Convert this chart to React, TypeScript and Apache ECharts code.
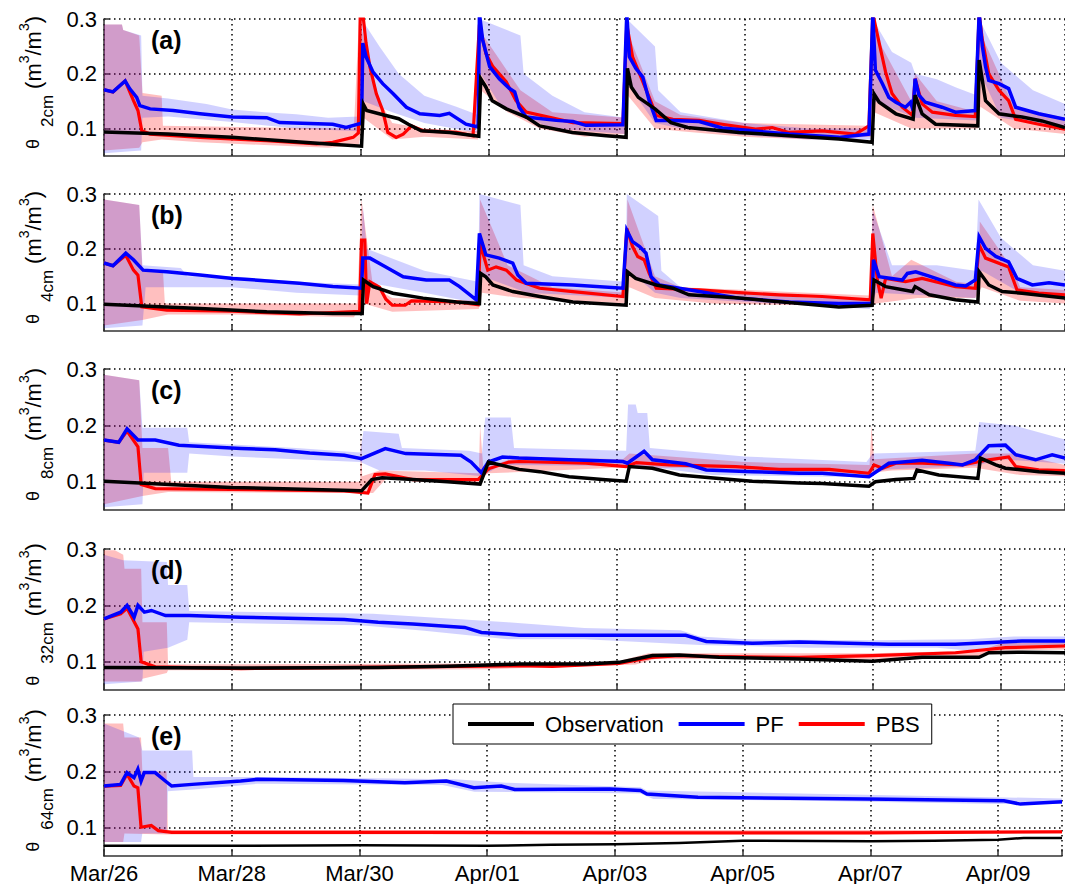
import React, { useEffect, useRef } from 'react';
import * as echarts from 'echarts';

const X_TICK_LABELS = ['Mar/26', 'Mar/28', 'Mar/30', 'Apr/01', 'Apr/03', 'Apr/05', 'Apr/07', 'Apr/09'];
const Y_TICKS = [0.1, 0.2, 0.3];
const PANEL_LABELS = ['(a)', '(b)', '(c)', '(d)', '(e)'];
const DEPTHS = ['2cm', '4cm', '8cm', '32cm', '64cm'];
const LEGEND_NAMES = ['Observation', 'PF', 'PBS'];

// x = days since Mar/26 00:00, y = soil moisture (m3/m3)
// ---------- (a) 2 cm ----------
const OBS_A = [[0,0.094],[0.5,0.092],[1,0.09],[1.5,0.087],[2,0.084],[2.5,0.08],[3,0.076],[3.5,0.072],[4.02,0.068],[4.05,0.144],[4.1,0.133],[4.4,0.124],[4.6,0.118],[4.75,0.108],[4.95,0.096],[5.4,0.093],[5.85,0.086],[5.88,0.191],[5.96,0.176],[6.06,0.151],[6.28,0.136],[6.59,0.121],[6.8,0.105],[7.31,0.093],[7.84,0.087],[8.15,0.084],[8.17,0.21],[8.23,0.176],[8.34,0.157],[8.6,0.136],[8.85,0.111],[9.11,0.102],[9.91,0.093],[10.69,0.087],[11.47,0.081],[11.99,0.075],[12.02,0.163],[12.1,0.148],[12.36,0.127],[12.63,0.117],[12.66,0.161],[12.77,0.127],[12.98,0.108],[13.64,0.105],[13.66,0.225],[13.76,0.151],[13.97,0.127],[14.33,0.121],[14.64,0.114],[15,0.102]];
const PF_A = [[0,0.171],[0.14,0.167],[0.33,0.187],[0.4,0.173],[0.51,0.157],[0.56,0.142],[0.72,0.136],[1.08,0.133],[1.5,0.127],[2.0,0.121],[2.54,0.12],[2.74,0.111],[3.57,0.108],[3.78,0.102],[4.02,0.11],[4.04,0.256],[4.09,0.231],[4.2,0.203],[4.35,0.182],[4.51,0.164],[4.72,0.139],[4.93,0.127],[5.24,0.124],[5.39,0.128],[5.65,0.108],[5.84,0.103],[5.86,0.31],[5.91,0.262],[6.02,0.213],[6.17,0.191],[6.33,0.173],[6.41,0.167],[6.48,0.139],[6.59,0.121],[7.06,0.115],[7.32,0.113],[7.52,0.106],[8.1,0.107],[8.16,0.31],[8.2,0.231],[8.3,0.21],[8.41,0.194],[8.51,0.151],[8.62,0.115],[8.88,0.115],[9.29,0.113],[9.65,0.101],[10.69,0.09],[11.47,0.084],[11.94,0.09],[12.0,0.31],[12.04,0.207],[12.15,0.182],[12.25,0.157],[12.36,0.148],[12.51,0.139],[12.59,0.148],[12.63,0.133],[12.66,0.191],[12.72,0.161],[12.82,0.148],[13.08,0.139],[13.29,0.13],[13.6,0.133],[13.66,0.31],[13.71,0.25],[13.76,0.213],[13.81,0.188],[13.97,0.182],[14.12,0.173],[14.23,0.139],[14.59,0.127],[15,0.117]];
const PBS_A = [[0,0.171],[0.14,0.167],[0.33,0.187],[0.46,0.151],[0.53,0.133],[0.59,0.096],[0.72,0.09],[1.5,0.084],[2.54,0.078],[3.32,0.072],[3.57,0.075],[3.89,0.084],[3.97,0.092],[4.0,0.31],[4.04,0.31],[4.09,0.256],[4.15,0.213],[4.25,0.164],[4.35,0.133],[4.43,0.093],[4.56,0.084],[4.67,0.09],[4.8,0.105],[4.98,0.096],[5.5,0.093],[5.76,0.087],[5.86,0.29],[5.96,0.237],[6.07,0.213],[6.28,0.185],[6.43,0.151],[6.59,0.13],[7.32,0.111],[8.1,0.109],[8.16,0.29],[8.25,0.231],[8.36,0.2],[8.51,0.157],[8.62,0.124],[8.88,0.117],[9.29,0.115],[9.65,0.108],[10.17,0.099],[10.43,0.102],[10.69,0.093],[11.21,0.096],[11.73,0.09],[11.94,0.105],[12.0,0.31],[12.1,0.256],[12.2,0.203],[12.3,0.164],[12.46,0.139],[12.62,0.124],[12.66,0.191],[12.77,0.145],[12.93,0.13],[13.29,0.124],[13.6,0.122],[13.66,0.31],[13.71,0.262],[13.81,0.2],[13.97,0.17],[14.12,0.151],[14.23,0.117],[14.59,0.108],[15,0.099]];
const PF_BAND_A_UP = [[0,0.29],[0.28,0.29],[0.3,0.28],[0.58,0.27],[0.6,0.16],[1.0,0.155],[1.6,0.145],[2.0,0.135],[2.5,0.13],[3.0,0.126],[3.5,0.12],[3.98,0.122],[4.02,0.3],[4.3,0.25],[4.6,0.2],[5.0,0.16],[5.5,0.14],[5.84,0.125],[5.86,0.3],[6.5,0.27],[6.55,0.2],[7.0,0.16],[7.5,0.13],[8.14,0.12],[8.16,0.3],[8.6,0.25],[8.65,0.17],[9.0,0.13],[10,0.11],[11,0.1],[11.98,0.1],[12.0,0.3],[12.3,0.24],[12.6,0.22],[12.66,0.2],[13.0,0.19],[13.3,0.175],[13.64,0.16],[13.66,0.3],[14,0.22],[14.5,0.17],[15,0.145]];
const PF_BAND_A_LO = [[0,0.055],[0.58,0.06],[0.6,0.12],[1.0,0.122],[2,0.112],[3,0.1],[3.98,0.095],[4.05,0.15],[4.5,0.13],[5,0.11],[5.84,0.092],[5.88,0.2],[6.2,0.14],[7,0.1],[8.14,0.09],[8.18,0.18],[8.6,0.11],[9,0.1],[10,0.088],[11,0.08],[11.98,0.08],[12.02,0.15],[12.66,0.12],[13.64,0.115],[13.68,0.2],[14,0.12],[15,0.1]];
const PBS_BAND_A_UP = [[0,0.29],[0.28,0.29],[0.3,0.28],[0.55,0.27],[0.6,0.165],[0.9,0.16],[0.92,0.105],[3.9,0.1],[3.98,0.3],[4.3,0.15],[4.5,0.11],[5.0,0.1],[5.84,0.095],[5.86,0.28],[6.5,0.17],[7,0.13],[8.14,0.12],[8.16,0.28],[8.6,0.15],[9.0,0.125],[10,0.11],[11.95,0.105],[12.0,0.28],[12.6,0.15],[12.66,0.2],[13.0,0.15],[13.64,0.13],[13.66,0.28],[14.2,0.14],[15,0.12]];
const PBS_BAND_A_LO = [[0,0.06],[0.55,0.065],[0.6,0.075],[0.9,0.08],[1.5,0.075],[2.5,0.07],[3.5,0.065],[3.98,0.07],[4.05,0.12],[4.5,0.08],[5,0.085],[5.84,0.08],[5.88,0.17],[6.3,0.13],[6.8,0.1],[7.5,0.085],[8.14,0.09],[8.18,0.16],[8.6,0.1],[9,0.095],[10,0.085],[11,0.08],[11.98,0.085],[12.02,0.13],[12.6,0.1],[13.64,0.1],[13.68,0.14],[14.2,0.1],[15,0.09]];

// ---------- (b) 4 cm ----------
const OBS_B = [[0,0.099],[1.5,0.091],[2.54,0.085],[3.57,0.082],[4.03,0.082],[4.05,0.143],[4.2,0.131],[4.51,0.119],[4.98,0.11],[5.5,0.103],[5.86,0.1],[5.88,0.155],[5.96,0.149],[6.07,0.134],[6.38,0.122],[6.8,0.113],[7.32,0.103],[8.15,0.097],[8.17,0.158],[8.3,0.146],[8.62,0.134],[8.88,0.128],[9.13,0.116],[9.91,0.11],[10.69,0.102],[11.47,0.094],[11.99,0.097],[12.02,0.143],[12.2,0.131],[12.62,0.122],[12.66,0.131],[12.88,0.116],[13.29,0.107],[13.64,0.103],[13.66,0.158],[13.81,0.134],[14.02,0.122],[14.33,0.119],[15,0.11]];
const PF_B = [[0,0.174],[0.14,0.169],[0.34,0.192],[0.46,0.18],[0.61,0.161],[0.98,0.158],[1.5,0.152],[2.01,0.146],[3.05,0.137],[3.57,0.131],[4.02,0.128],[4.04,0.183],[4.15,0.183],[4.35,0.17],[4.67,0.149],[5.03,0.143],[5.39,0.143],[5.55,0.131],[5.81,0.107],[5.86,0.228],[5.96,0.189],[6.17,0.183],[6.38,0.174],[6.46,0.152],[6.59,0.137],[7.32,0.134],[8.1,0.128],[8.16,0.234],[8.25,0.213],[8.36,0.204],[8.46,0.192],[8.54,0.149],[8.67,0.134],[9.29,0.122],[9.91,0.11],[10.69,0.103],[11.47,0.1],[11.99,0.1],[12.01,0.18],[12.1,0.149],[12.46,0.143],[12.54,0.155],[12.67,0.158],[12.88,0.15],[13.29,0.134],[13.45,0.132],[13.6,0.143],[13.66,0.222],[13.76,0.201],[13.92,0.186],[14.12,0.176],[14.25,0.146],[14.49,0.134],[14.75,0.138],[15,0.134]];
const PBS_B = [[0,0.174],[0.14,0.169],[0.34,0.188],[0.46,0.161],[0.53,0.152],[0.59,0.094],[0.98,0.088],[2.01,0.086],[3.05,0.081],[3.99,0.086],[4.02,0.216],[4.07,0.216],[4.1,0.1],[4.15,0.14],[4.3,0.13],[4.4,0.108],[4.5,0.097],[4.7,0.097],[4.8,0.105],[5.5,0.103],[5.84,0.098],[5.87,0.21],[5.99,0.161],[6.12,0.167],[6.28,0.161],[6.44,0.143],[6.8,0.128],[7.32,0.122],[8.1,0.113],[8.16,0.237],[8.25,0.204],[8.33,0.186],[8.43,0.18],[8.51,0.155],[8.62,0.128],[9.29,0.125],[9.91,0.12],[10.54,0.116],[11.21,0.113],[11.96,0.107],[12.0,0.228],[12.07,0.143],[12.13,0.11],[12.2,0.146],[12.51,0.14],[12.77,0.146],[13.29,0.131],[13.6,0.128],[13.66,0.207],[13.76,0.183],[14.12,0.167],[14.25,0.125],[14.59,0.119],[15,0.116]];
const PF_BAND_B_UP = [[0,0.29],[0.55,0.28],[0.6,0.17],[1.2,0.165],[1.3,0.15],[2,0.15],[3,0.14],[4.0,0.135],[4.04,0.28],[4.1,0.2],[5,0.16],[5.84,0.14],[5.86,0.3],[6.5,0.28],[6.55,0.17],[7,0.15],[8.14,0.14],[8.16,0.3],[8.65,0.26],[8.7,0.16],[9,0.13],[10,0.12],[11,0.11],[11.95,0.11],[12.0,0.27],[12.3,0.17],[13,0.17],[13.6,0.16],[13.65,0.29],[14,0.22],[14.5,0.17],[15,0.16]];
const PF_BAND_B_LO = [[0,0.055],[0.6,0.06],[0.65,0.13],[2,0.13],[3,0.12],[4,0.115],[4.05,0.14],[5,0.12],[5.85,0.1],[5.9,0.15],[6.6,0.12],[8.15,0.11],[8.2,0.16],[8.6,0.12],[9,0.11],[11.95,0.09],[12.05,0.12],[13.6,0.11],[13.7,0.16],[14.3,0.12],[15,0.11]];
const PBS_BAND_B_UP = [[0,0.29],[0.55,0.28],[0.6,0.16],[0.92,0.16],[0.95,0.1],[3.95,0.1],[4.02,0.29],[4.2,0.13],[4.5,0.11],[5.85,0.105],[5.87,0.29],[6.3,0.17],[7,0.13],[8.15,0.12],[8.17,0.29],[8.6,0.15],[9,0.13],[11.95,0.115],[12.0,0.28],[12.3,0.15],[12.6,0.18],[13.3,0.14],[13.65,0.135],[13.67,0.25],[14.2,0.16],[14.3,0.13],[15,0.125]];
const PBS_BAND_B_LO = [[0,0.06],[0.6,0.07],[1,0.08],[2,0.08],[3.9,0.075],[4.05,0.1],[4.5,0.085],[5.85,0.09],[5.9,0.12],[6.5,0.11],[8.15,0.1],[8.2,0.13],[8.6,0.11],[9.5,0.1],[11.9,0.095],[12.05,0.1],[12.7,0.11],[13.6,0.11],[13.7,0.13],[14.3,0.105],[15,0.1]];

// ---------- (c) 8 cm ----------
const OBS_C = [[0,0.101],[1.98,0.09],[4.02,0.084],[4.18,0.104],[4.34,0.107],[4.82,0.104],[5.36,0.1],[5.87,0.096],[6.0,0.135],[6.48,0.122],[6.8,0.118],[7.26,0.109],[7.78,0.104],[8.15,0.101],[8.2,0.127],[8.56,0.124],[8.98,0.112],[9.6,0.106],[10.12,0.101],[10.85,0.098],[11.21,0.097],[11.94,0.092],[12.04,0.1],[12.36,0.104],[12.64,0.106],[12.69,0.121],[13.03,0.112],[13.64,0.106],[13.68,0.142],[13.92,0.13],[14.07,0.124],[14.59,0.118],[15,0.115]];
const PF_C = [[0,0.174],[0.23,0.17],[0.36,0.194],[0.53,0.174],[0.8,0.174],[1.17,0.165],[2.14,0.159],[2.67,0.157],[3.21,0.151],[3.75,0.147],[4.02,0.141],[4.39,0.159],[4.71,0.15],[5.57,0.147],[5.73,0.135],[5.89,0.116],[6.0,0.135],[6.22,0.144],[6.48,0.142],[7.26,0.139],[8.1,0.136],[8.17,0.133],[8.43,0.154],[8.56,0.139],[9.08,0.132],[9.4,0.121],[10.12,0.118],[10.85,0.115],[11.21,0.115],[11.94,0.109],[12.25,0.133],[12.77,0.138],[13.19,0.133],[13.4,0.13],[13.6,0.139],[13.81,0.164],[14.07,0.165],[14.23,0.148],[14.54,0.139],[14.8,0.148],[15,0.142]];
const PBS_C = [[0,0.174],[0.23,0.17],[0.36,0.19],[0.53,0.162],[0.58,0.095],[0.8,0.088],[3.75,0.084],[4.12,0.08],[4.23,0.113],[4.39,0.114],[4.82,0.104],[5.84,0.104],[6.0,0.123],[6.32,0.135],[6.48,0.136],[7.52,0.133],[8.15,0.127],[8.31,0.134],[8.82,0.13],[9.86,0.127],[10.54,0.122],[11.32,0.122],[11.94,0.115],[12.02,0.13],[12.15,0.124],[12.36,0.133],[12.77,0.133],[13.4,0.13],[13.81,0.139],[14.12,0.144],[14.23,0.127],[14.59,0.121],[15,0.12]];
const PF_BAND_C_UP = [[0,0.29],[0.55,0.28],[0.6,0.196],[1.3,0.196],[1.33,0.17],[3,0.16],[4.0,0.152],[4.05,0.19],[4.6,0.185],[4.65,0.16],[5.7,0.155],[5.9,0.15],[5.95,0.214],[6.35,0.214],[6.4,0.16],[8.15,0.155],[8.18,0.237],[8.3,0.237],[8.33,0.222],[8.48,0.222],[8.52,0.16],[10,0.145],[11.9,0.135],[12.0,0.15],[13.6,0.155],[13.66,0.206],[14.2,0.2],[15,0.175]];
const PF_BAND_C_LO = [[0,0.055],[0.6,0.06],[0.62,0.116],[1.3,0.116],[1.33,0.15],[2,0.145],[4,0.135],[4.3,0.12],[5,0.12],[5.9,0.11],[6.2,0.13],[8,0.128],[8.6,0.125],[9.5,0.112],[11.9,0.108],[12.2,0.122],[13.6,0.128],[14,0.14],[15,0.132]];
const PBS_BAND_C_UP = [[0,0.29],[0.55,0.28],[0.6,0.16],[1.0,0.16],[1.05,0.1],[4.0,0.1],[4.01,0.19],[4.03,0.11],[4.3,0.12],[5.85,0.115],[5.87,0.2],[5.92,0.125],[6.5,0.145],[8.1,0.14],[8.2,0.15],[10,0.135],[11.95,0.13],[11.98,0.2],[12.02,0.14],[13.6,0.15],[14.2,0.15],[15,0.13]];
const PBS_BAND_C_LO = [[0,0.06],[0.6,0.075],[1,0.082],[4,0.08],[4.2,0.08],[4.4,0.105],[5.8,0.1],[6,0.115],[8,0.125],[9,0.125],[10.5,0.118],[11.9,0.115],[12.3,0.12],[13.6,0.125],[14.3,0.112],[15,0.11]];

// ---------- (d) 32 cm ----------
const OBS_D = [[0,0.09],[2.14,0.089],[4.28,0.09],[5.36,0.092],[6.48,0.096],[7.52,0.096],[8.04,0.099],[8.3,0.105],[8.56,0.111],[8.98,0.112],[9.6,0.108],[10.85,0.105],[11.99,0.101],[12.77,0.108],[13.66,0.108],[13.81,0.116],[14.33,0.117],[15,0.116]];
const PF_D = [[0,0.176],[0.26,0.188],[0.36,0.2],[0.47,0.179],[0.53,0.2],[0.63,0.188],[0.74,0.191],[0.96,0.182],[1.33,0.182],[2.14,0.179],[3.75,0.175],[4.28,0.17],[4.82,0.167],[5.63,0.161],[5.89,0.152],[6.32,0.149],[6.48,0.147],[8.04,0.147],[9.08,0.147],[9.4,0.136],[10.12,0.133],[10.85,0.135],[12.25,0.131],[13.29,0.131],[14.33,0.137],[15,0.137]];
const PBS_D = [[0,0.176],[0.26,0.185],[0.36,0.195],[0.53,0.158],[0.58,0.1],[0.8,0.091],[2.14,0.088],[6.48,0.093],[7.0,0.092],[8.04,0.097],[8.56,0.108],[8.98,0.111],[9.6,0.109],[10.85,0.108],[11.99,0.111],[13.29,0.116],[14.07,0.125],[15,0.128]];
const PF_BAND_D_UP = [[0,0.29],[0.3,0.28],[0.98,0.277],[1.0,0.236],[1.3,0.236],[1.33,0.19],[4.2,0.185],[5.5,0.176],[6.3,0.17],[7.5,0.16],[9,0.156],[9.3,0.145],[10,0.14],[12,0.138],[13.5,0.14],[14.2,0.145],[15,0.145]];
const PF_BAND_D_LO = [[0,0.06],[0.6,0.065],[0.62,0.118],[1.0,0.125],[1.3,0.139],[1.33,0.17],[4,0.165],[5,0.155],[6.3,0.14],[7.5,0.14],[9.3,0.13],[11,0.125],[13,0.125],[13.5,0.12],[14,0.128],[15,0.13]];
const PBS_BAND_D_UP = [[0,0.298],[0.17,0.298],[0.3,0.29],[0.32,0.265],[0.58,0.265],[0.6,0.17],[0.98,0.17],[1.0,0.095],[6,0.097],[8,0.1],[8.5,0.115],[12,0.115],[13.7,0.12],[14,0.133],[15,0.135]];
const PBS_BAND_D_LO = [[0,0.065],[0.58,0.065],[0.6,0.07],[0.98,0.08],[1.0,0.085],[6,0.087],[8.3,0.095],[8.6,0.105],[12,0.105],[13.7,0.11],[14,0.12],[15,0.122]];

// ---------- (e) 64 cm ----------
const OBS_E = [[0,0.068],[2,0.068],[4,0.069],[6,0.068],[7,0.07],[8,0.071],[9,0.073],[10,0.077],[12,0.076],[13,0.077],[14,0.079],[14.4,0.082],[15,0.082]];
const PF_E = [[0,0.174],[0.26,0.177],[0.36,0.198],[0.47,0.189],[0.53,0.204],[0.58,0.183],[0.63,0.198],[0.8,0.198],[0.96,0.183],[1.06,0.174],[1.38,0.177],[2.14,0.183],[2.4,0.186],[3.75,0.184],[4.71,0.18],[5.36,0.183],[5.79,0.171],[6.22,0.174],[6.43,0.168],[7.92,0.169],[8.4,0.166],[8.5,0.16],[9.3,0.154],[11.96,0.151],[14.09,0.148],[14.35,0.142],[15,0.146]];
const PBS_E = [[0,0.174],[0.26,0.175],[0.36,0.195],[0.47,0.174],[0.53,0.171],[0.58,0.101],[0.74,0.104],[0.85,0.095],[1.06,0.092],[5,0.092],[8,0.091],[12,0.091],[15,0.093]];
const PF_BAND_E_UP = [[0,0.285],[0.55,0.26],[0.6,0.237],[1.38,0.237],[1.4,0.19],[2.4,0.19],[5.5,0.186],[6.3,0.18],[8.4,0.172],[8.5,0.166],[15,0.152]];
const PF_BAND_E_LO = [[0,0.075],[0.58,0.075],[0.6,0.09],[0.98,0.09],[1.0,0.165],[1.4,0.168],[2.4,0.178],[5.3,0.176],[5.8,0.164],[8.4,0.161],[8.6,0.151],[11,0.148],[14,0.142],[15,0.142]];
const PBS_BAND_E_UP = [[0,0.285],[0.3,0.285],[0.32,0.26],[0.58,0.26],[0.6,0.2],[0.98,0.2],[1.0,0.096],[15,0.096]];
const PBS_BAND_E_LO = [[0,0.075],[0.3,0.075],[0.32,0.09],[1.0,0.088],[15,0.089]];

const PANEL_DATA = [
  { obs: OBS_A, pf: PF_A, pbs: PBS_A, pfUp: PF_BAND_A_UP, pfLo: PF_BAND_A_LO, pbsUp: PBS_BAND_A_UP, pbsLo: PBS_BAND_A_LO },
  { obs: OBS_B, pf: PF_B, pbs: PBS_B, pfUp: PF_BAND_B_UP, pfLo: PF_BAND_B_LO, pbsUp: PBS_BAND_B_UP, pbsLo: PBS_BAND_B_LO },
  { obs: OBS_C, pf: PF_C, pbs: PBS_C, pfUp: PF_BAND_C_UP, pfLo: PF_BAND_C_LO, pbsUp: PBS_BAND_C_UP, pbsLo: PBS_BAND_C_LO },
  { obs: OBS_D, pf: PF_D, pbs: PBS_D, pfUp: PF_BAND_D_UP, pfLo: PF_BAND_D_LO, pbsUp: PBS_BAND_D_UP, pbsLo: PBS_BAND_D_LO },
  { obs: OBS_E, pf: PF_E, pbs: PBS_E, pfUp: PF_BAND_E_UP, pfLo: PF_BAND_E_LO, pbsUp: PBS_BAND_E_UP, pbsLo: PBS_BAND_E_LO },
];

// layout (pixels)
const GRID_LEFT = 104;
const GRID_WIDTH = 962;
const GRID_TOPS = [19, 194, 369, 549, 715];
const GRID_HEIGHTS = [137, 137, 141, 141, 143];

const FONT = '"Liberation Sans", Arial, Helvetica, sans-serif';
const C_OBS = '#000000';
const C_PF = '#0000ff';
const C_PBS = '#ff0000';
const FILL_PF = 'rgba(0,0,255,0.18)';
const FILL_PBS = 'rgba(255,0,0,0.25)';

function bandSeries(up: number[][], lo: number[][], fill: string, idx: number) {
  return {
    type: 'custom',
    xAxisIndex: idx,
    yAxisIndex: idx,
    clip: true,
    silent: true,
    z: 1,
    data: [[up[0][0], up[0][1]]],
    renderItem: (_params: any, api: any) => {
      const pts = up.map((p) => api.coord(p)).concat(lo.slice().reverse().map((p) => api.coord(p)));
      return { type: 'polygon', shape: { points: pts }, style: { fill, stroke: null } };
    },
  };
}

function lineSeries(name: string, data: number[][], color: string, width: number, idx: number, z: number) {
  return {
    type: 'line',
    name,
    xAxisIndex: idx,
    yAxisIndex: idx,
    data,
    symbol: 'none',
    showSymbol: false,
    clip: true,
    z,
    lineStyle: { color, width, join: 'miter' },
    itemStyle: { color },
  };
}

function buildOption() {
  const grid: any[] = [];
  const xAxis: any[] = [];
  const yAxis: any[] = [];
  const series: any[] = [];
  const title: any[] = [];
  PANEL_DATA.forEach((d, i) => {
    const isLast = i === PANEL_DATA.length - 1;
    grid.push({ left: GRID_LEFT, width: GRID_WIDTH, top: GRID_TOPS[i], height: GRID_HEIGHTS[i] });
    xAxis.push({
      type: 'value',
      gridIndex: i,
      min: 0,
      max: 15,
      interval: 2,
      axisLine: { show: true, onZero: false, lineStyle: { color: '#333', width: 1.5 } },
      axisTick: { show: true, inside: true, length: 7, lineStyle: { color: '#333', width: 1.5 } },
      axisLabel: {
        show: isLast,
        fontFamily: FONT,
        fontSize: 22,
        color: '#000',
        margin: 6,
        formatter: (v: number) => {
          const k = Math.round(v / 2);
          return Math.abs(v - k * 2) < 1e-6 && X_TICK_LABELS[k] ? X_TICK_LABELS[k] : '';
        },
      },
      splitLine: { show: true, lineStyle: { color: '#000', width: 1.5, type: [1.5, 3.5] } },
    });
    yAxis.push({
      type: 'value',
      gridIndex: i,
      min: 0.05,
      max: 0.3,
      axisLine: { show: true, lineStyle: { color: '#333', width: 1.5 } },
      axisTick: { show: true, inside: true, length: 5, customValues: Y_TICKS, lineStyle: { color: '#333', width: 1.5 } },
      axisLabel: {
        customValues: Y_TICKS,
        fontFamily: FONT,
        fontSize: 22,
        color: '#000',
        margin: 7,
        formatter: (v: number) => v.toFixed(1),
      },
      splitLine: { show: true, lineStyle: { color: '#000', width: 1.5, type: [1.5, 3.5] } },
      name: `{t|θ}{s|${DEPTHS[i]}}{n|(m}{p|3}{n|/m}{p|3}{n|)}`,
      nameLocation: 'middle',
      nameRotate: 90,
      nameGap: 48,
      nameTextStyle: {
        fontFamily: FONT,
        fontSize: 22,
        color: '#000',
        rich: {
          t: { fontFamily: FONT, fontSize: 18, color: '#000', padding: [0, 12, 0, 10] },
          s: { fontFamily: FONT, fontSize: 17, color: '#000', padding: [28, 6, 0, 0] },
          n: { fontFamily: FONT, fontSize: 22, color: '#000' },
          p: { fontFamily: FONT, fontSize: 14, color: '#000', padding: [0, 0, 18, 0] },
        },
      },
    });
    title.push({
      text: PANEL_LABELS[i],
      left: 146,
      top: GRID_TOPS[i] + 3,
      textStyle: { fontFamily: FONT, fontSize: 25, fontWeight: 'bold', color: '#000' },
    });
    series.push(bandSeries(d.pbsUp, d.pbsLo, FILL_PBS, i));
    series.push(bandSeries(d.pfUp, d.pfLo, FILL_PF, i));
    series.push(lineSeries(LEGEND_NAMES[2], d.pbs, C_PBS, 3.2, i, 3));
    series.push(lineSeries(LEGEND_NAMES[1], d.pf, C_PF, 3.5, i, 4));
    series.push(lineSeries(LEGEND_NAMES[0], d.obs, C_OBS, isLast ? 2.5 : 3.5, i, 5));
  });
  return {
    animation: false,
    backgroundColor: '#ffffff',
    title,
    grid,
    xAxis,
    yAxis,
    series,
    legend: {
      data: LEGEND_NAMES,
      left: 453,
      top: 704,
      orient: 'horizontal',
      icon: 'rect',
      itemWidth: 66,
      itemHeight: 4,
      itemGap: 15,
      padding: [9, 12, 9, 15],
      backgroundColor: '#ffffff',
      borderColor: '#000',
      borderWidth: 1,
      borderRadius: 0,
      selectedMode: false,
      z: 20,
      textStyle: { fontFamily: FONT, fontSize: 22, color: '#000', padding: [0, 0, 0, 6] },
    },
  };
}

export default function App() {
  const ref = useRef<HTMLDivElement>(null);
  useEffect(() => {
    if (!ref.current) return;
    const chart = echarts.init(ref.current, undefined, { renderer: 'svg' });
    chart.setOption(buildOption() as any);
    return () => chart.dispose();
  }, []);
  return (
    <div
      ref={ref}
      style={{ position: 'fixed', left: 0, top: 0, width: 1065, height: 884, background: '#fff' }}
    />
  );
}
